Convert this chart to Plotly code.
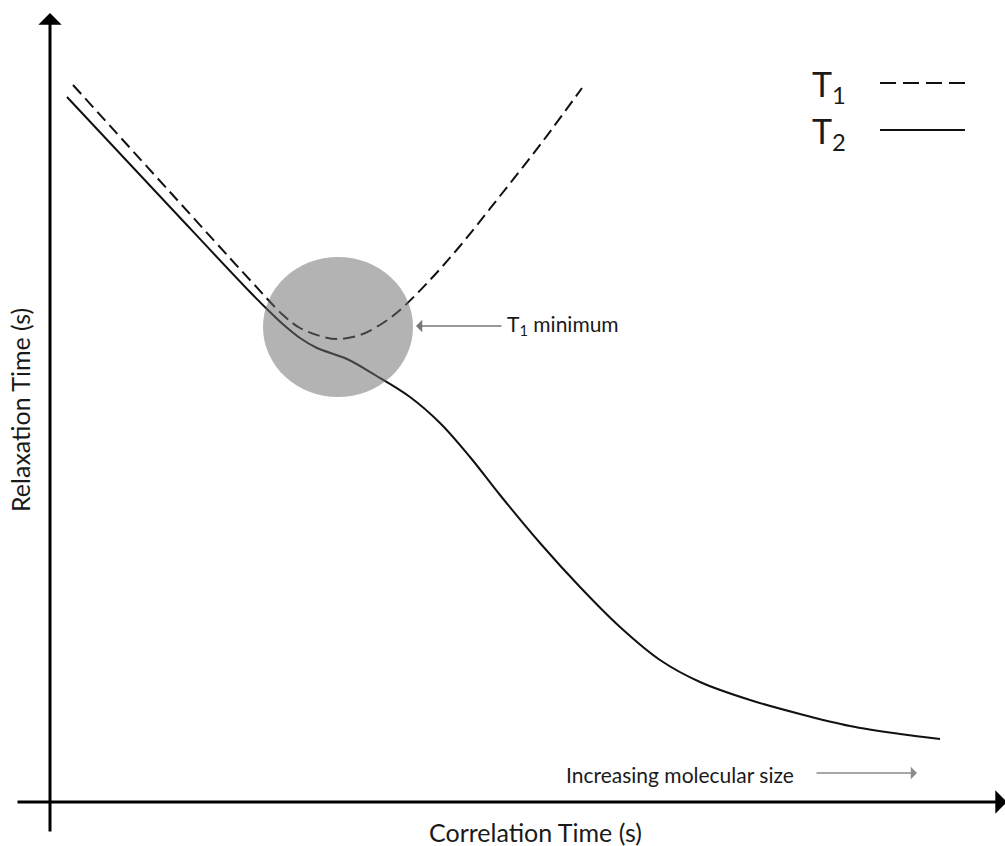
import plotly.graph_objects as go

# ---- data (chart units: origin at the axes' crossing) ----
t1_x = [23, 120, 200, 233, 250, 270, 287, 310, 333, 350, 380, 410, 450, 493, 532]
t1_y = [717, 610, 522, 487, 474, 466, 463, 467, 479, 492, 522, 556, 606, 661, 714]

t2_x = [17, 120, 200, 220, 235, 250, 267, 297, 325, 360, 390, 420, 450, 490, 530,
        570, 610, 650, 700, 750, 800, 850, 890]
t2_y = [705, 595, 510, 490, 476, 464, 454, 443, 427, 405, 379, 345, 307, 259, 215,
        175, 142, 120, 102, 88, 76, 68, 63]

# T1-minimum highlight region
min_x = [213, 363]
min_y = [405, 545]

series_names = ["T<sub>1</sub>", "T<sub>2</sub>"]
x_title = "Correlation Time (s)"
y_title = "Relaxation Time (s)"
min_label = "T<sub>1</sub> minimum"
size_label = "Increasing molecular size"

FONT = "Lato"
INK = "#1a1a1a"

fig = go.Figure()
fig.add_trace(go.Scatter(x=t1_x, y=t1_y, mode="lines", name="T1",
                         line=dict(color="#111111", width=2, dash="12px,6px", shape="spline", smoothing=1.0)))
fig.add_trace(go.Scatter(x=t2_x, y=t2_y, mode="lines", name="T2",
                         line=dict(color="#111111", width=2, shape="spline", smoothing=1.0)))

shapes = []
# highlight ellipse (above curves, semi-transparent)
shapes.append(dict(type="circle", xref="x", yref="y", x0=min_x[0], x1=min_x[1], y0=min_y[0], y1=min_y[1],
                   fillcolor="rgba(110,110,110,0.52)", line=dict(width=0), layer="above"))
# legend lines
shapes.append(dict(type="line", xref="x", yref="y", x0=830, x1=915, y0=719, y1=719,
                   line=dict(color="#111111", width=2, dash="16px,7px")))
shapes.append(dict(type="line", xref="x", yref="y", x0=830, x1=915, y0=672, y1=672,
                   line=dict(color="#111111", width=2)))

annotations = []
# axes as arrows
annotations.append(dict(x=0, y=789, ax=0, ay=-31, xref="x", yref="y", axref="x", ayref="y",
                        text="", showarrow=True, arrowhead=1, arrowsize=1.3, arrowwidth=3, arrowcolor="#000000"))
annotations.append(dict(x=957, y=0, ax=-34, ay=0, xref="x", yref="y", axref="x", ayref="y",
                        text="", showarrow=True, arrowhead=1, arrowsize=1.3, arrowwidth=3, arrowcolor="#000000"))
# T1 minimum arrow + label
annotations.append(dict(x=366, y=476, ax=453, ay=476, xref="x", yref="y", axref="x", ayref="y",
                        text="", showarrow=True, arrowhead=1, arrowsize=1.6, arrowwidth=1.3, arrowcolor="#777777"))
annotations.append(dict(x=455, y=477, xref="x", yref="y", text=min_label, showarrow=False,
                        xanchor="left", yanchor="middle", font=dict(family=FONT, size=21, color=INK)))
# molecular size arrow + label
annotations.append(dict(x=867, y=29, ax=765, ay=29, xref="x", yref="y", axref="x", ayref="y",
                        text="", showarrow=True, arrowhead=1, arrowsize=1.6, arrowwidth=1.3, arrowcolor="#8c8c8c"))
annotations.append(dict(x=514, y=28, xref="x", yref="y", text=size_label, showarrow=False,
                        xanchor="left", yanchor="middle", font=dict(family=FONT, size=21, color=INK)))
# axis titles
annotations.append(dict(x=485, y=-30, xref="x", yref="y", text=x_title, showarrow=False,
                        xanchor="center", yanchor="middle", font=dict(family=FONT, size=25, color=INK)))
annotations.append(dict(x=-30, y=392, xref="x", yref="y", text=y_title, showarrow=False, textangle=-90,
                        xanchor="center", yanchor="middle", font=dict(family=FONT, size=25, color=INK)))
# legend labels
annotations.append(dict(x=760, y=716, xref="x", yref="y", text=series_names[0], showarrow=False,
                        xanchor="left", yanchor="middle", font=dict(family=FONT, size=34, color=INK)))
annotations.append(dict(x=760, y=669, xref="x", yref="y", text=series_names[1], showarrow=False,
                        xanchor="left", yanchor="middle", font=dict(family=FONT, size=34, color=INK)))

fig.update_layout(
    width=1005, height=846,
    margin=dict(l=0, r=0, t=0, b=0),
    paper_bgcolor="white", plot_bgcolor="white",
    showlegend=False,
    xaxis=dict(range=[-50, 955], visible=False, fixedrange=True),
    yaxis=dict(range=[-44, 802], visible=False, fixedrange=True),
    shapes=shapes, annotations=annotations,
)

fig.write_html("out.html")
